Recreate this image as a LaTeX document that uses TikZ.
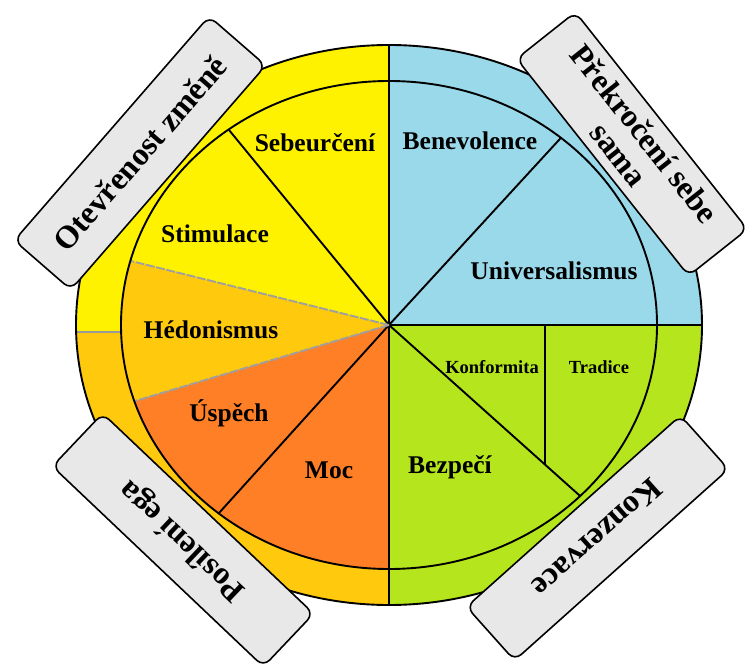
\documentclass[tikz,border=0pt]{standalone}
\usepackage{fontspec}
\setmainfont{Liberation Serif}
\usetikzlibrary{calc}
\begin{document}
\begin{tikzpicture}[x=1pt,y=-1pt,line join=round,
  sector/.style={line width=1.9pt,draw=black},
  softline/.style={line width=1.9pt,draw=gray!75,dash pattern=on 9pt off 1.5pt},
  lbl/.style={font=\bfseries\fontsize{25.5}{28}\selectfont,inner sep=0pt},
  smalllbl/.style={font=\bfseries\fontsize{18.5}{20}\selectfont,inner sep=0pt},
  tag/.style={draw=black,line width=1.6pt,fill=boxgray,rounded corners=9pt,
    inner sep=0pt,align=center,font=\bfseries\fontsize{32}{33}\selectfont}]
\definecolor{vyellow}{HTML}{FFF200}
\definecolor{vgold}{HTML}{FFC90E}
\definecolor{vorange}{HTML}{FF7F27}
\definecolor{vgreen}{HTML}{B5E61D}
\definecolor{vblue}{HTML}{99D9EA}
\definecolor{boxgray}{HTML}{E8E8E8}

\useasboundingbox (0,0) rectangle (746,668);

% centre and the points where the dividing lines meet the inner circle
\coordinate (C) at (389,325);
\coordinate (pSS) at (229,130);
\coordinate (pSH) at (131,261);
\coordinate (pHU) at (135,401);
\coordinate (pUM) at (219,513);
\coordinate (pBK) at (579,495);
\coordinate (pBU) at (558,141);

% outer ring: four coloured quarters
\begin{scope}
  \clip (C) ellipse [x radius=313pt, y radius=280pt];
  \fill[vyellow] (0,-10) rectangle (389,332);
  \fill[vgold]   (0,332) rectangle (389,680);
  \fill[vblue]   (389,-10) rectangle (760,325);
  \fill[vgreen]  (389,325) rectangle (760,680);
  % dividing lines through the ring
  \draw[sector] (389,-10) -- (389,680);
  \draw[sector] (C) -- (760,325);
  \draw[line width=1.4pt,draw=gray!80] (60,332) -- (121,332);
\end{scope}

% inner circle: the value sectors
\begin{scope}
  \clip (C) ellipse [x radius=268pt, y radius=244pt];
  \fill[vyellow] (C) -- (389,-200) -- (-400,-200) -- ($(C)!3!(pSH)$) -- cycle;
  \fill[vgold]   (C) -- ($(C)!3!(pSH)$) -- ($(C)!3!(pHU)$) -- cycle;
  \fill[vorange] (C) -- ($(C)!3!(pHU)$) -- (-400,1000) -- (389,1000) -- cycle;
  \fill[vgreen]  (389,325) rectangle (1000,1000);
  \fill[vblue]   (389,-200) rectangle (1000,325);
  \draw[sector] (389,-10) -- (389,680);
  \draw[sector] (C) -- (760,325);
  \draw[sector] (C) -- ($(C)!2!(pSS)$);
  \draw[sector] (C) -- ($(C)!2!(pUM)$);
  \draw[sector] (C) -- ($(C)!2!(pBK)$);
  \draw[sector] (C) -- ($(C)!2!(pBU)$);
  \draw[softline] (C) -- ($(C)!2!(pSH)$);
  \draw[softline] (C) -- ($(C)!2!(pHU)$);
  \draw[sector] (545,325) -- ($(C)!0.821!(pBK)$);
\end{scope}

% circle outlines
\draw[sector] (C) ellipse [x radius=268pt, y radius=244pt];
\draw[sector] (C) ellipse [x radius=313pt, y radius=280pt];

% value labels
\node[lbl] (seb) at (315,143) {Sebeurčení};
\node[lbl] (ben) at (470,141) {Benevolence};
\node[lbl] (sti) at (215,234) {Stimulace};
\node[lbl] (uni) at (554,271) {Universalismus};
\node[lbl] (hed) at (211,330) {Hédonismus};
\node[lbl] (usp) at (229,413) {Úspěch};
\node[lbl] (moc) at (329,470) {Moc};
\node[lbl] (bez) at (450,467) {Bezpečí};
\node[smalllbl] (kon) at (492,367) {Konformita};
\node[smalllbl] (tra) at (599,367) {Tradice};

% higher-order value tags
\node[tag,rotate=49,minimum width=297pt,minimum height=75pt] (open) at (140,153) {Otevřenost změně};
\node[tag,rotate=-51.6,minimum width=277pt,minimum height=75pt] (self) at (632,144) {Překročení sebe\\sama};
\node[tag,rotate=136.5,minimum width=291pt,minimum height=73pt] (ego) at (183,540) {Posílení ega};
\node[tag,rotate=-138.2,minimum width=287pt,minimum height=72pt] (cons) at (597.5,538) {Konzervace};
\end{tikzpicture}
\end{document}
